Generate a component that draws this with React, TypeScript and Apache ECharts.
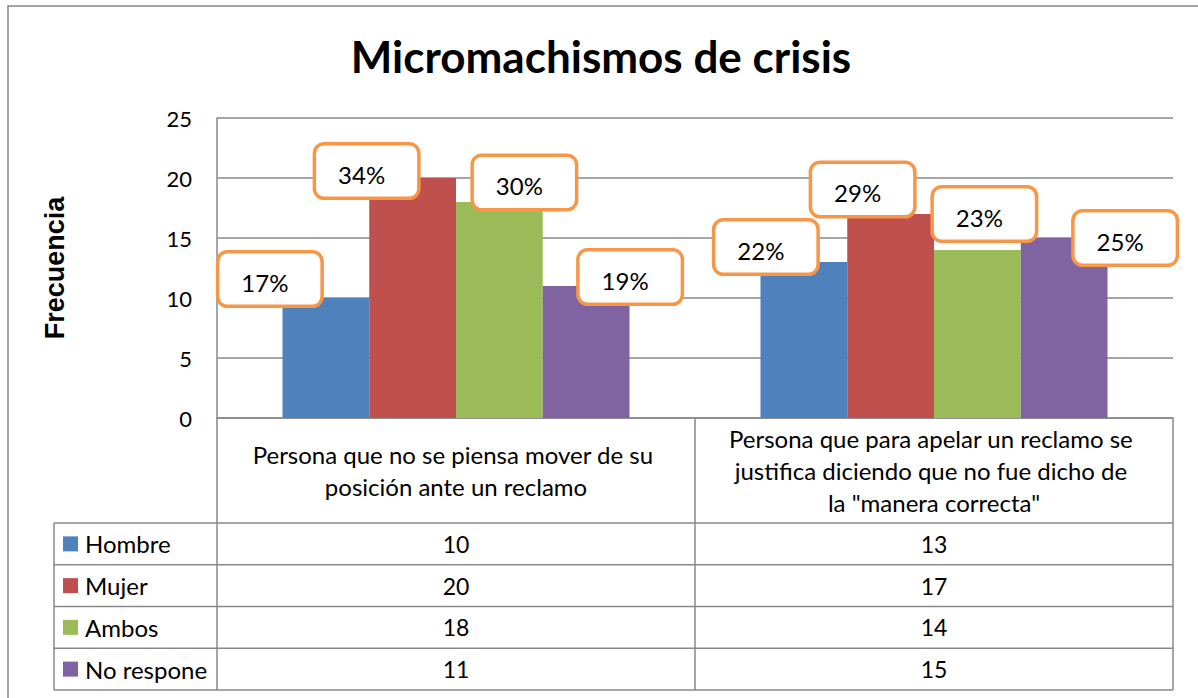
import React, { useEffect, useRef } from "react";
import * as echarts from "echarts";

const categories = [
  "Persona que no se piensa mover de su posición ante un reclamo",
  'Persona que para apelar un reclamo se justifica diciendo que no fue dicho de la "manera correcta"',
];
const seriesNames = ["Hombre", "Mujer", "Ambos", "No respone"];
const hombre = [10, 13];
const mujer = [20, 17];
const ambos = [18, 14];
const noRespone = [11, 15];
const hombrePct = ["17%", "22%"];
const mujerPct = ["34%", "29%"];
const ambosPct = ["30%", "23%"];
const noResponePct = ["19%", "25%"];
const yMin = 0;
const yMax = 25;
const yInterval = 5;

// styling / layout
const COLORS = ["#4F81BD", "#C0504D", "#9BBB59", "#8064A2"];
const LABEL_OFFSETS = [
  [[-56, 6.5], [-38, 10.5]],
  [[-46, 18.5], [-28, 1]],
  [[25, 6], [7, -10.5]],
  [[44, 16.5], [61, 25.5]],
];
const GRID = { left: 217, top: 118, width: 956, height: 300 };
const HEADER_BOTTOM = 523;
const TABLE_BOTTOM = 690;
const LEGEND_LEFT = 54;
const LINE = "#888888";
const FONT = "Lato";

export default function App() {
  const ref = useRef<HTMLDivElement>(null);
  useEffect(() => {
    if (!ref.current) return;
    const chart = echarts.init(ref.current, null, { renderer: "svg" });
    const values = [hombre, mujer, ambos, noRespone];
    const pcts = [hombrePct, mujerPct, ambosPct, noResponePct];
    const rowH = (TABLE_BOTTOM - HEADER_BOTTOM) / seriesNames.length;
    const gridRight = GRID.left + GRID.width;
    const gridBottom = GRID.top + GRID.height;

    chart.setOption({
      animation: false,
      backgroundColor: "#ffffff",
      title: {
        text: "Micromachismos de crisis",
        left: 596,
        top: 29,
        textAlign: "center",
        textStyle: { fontFamily: FONT, fontWeight: "bold", fontSize: 44, color: "#000" },
      },
      legend: {
        data: seriesNames,
        orient: "vertical",
        left: 63,
        top: HEADER_BOTTOM + rowH / 2 - 12,
        padding: 0,
        itemWidth: 15,
        itemHeight: 15,
        itemGap: rowH - 24,
        icon: "rect",
        selectedMode: false,
        textStyle: { fontFamily: FONT, fontSize: 24, lineHeight: 24, color: "#000", padding: [0, 0, 0, 2] },
      },
      grid: { left: GRID.left, top: GRID.top, width: GRID.width, height: GRID.height, containLabel: false },
      xAxis: {
        type: "category",
        data: categories,
        axisTick: { show: false },
        axisLine: { show: true, lineStyle: { color: LINE, width: 1.5 } },
        axisLabel: {
          interval: 0,
          width: 414,
          overflow: "break",
          lineHeight: 32,
          fontSize: 24,
          fontFamily: FONT,
          color: "#000",
          margin: (HEADER_BOTTOM - gridBottom) / 2,
          verticalAlign: "middle",
          align: "center",
        },
      },
      yAxis: {
        type: "value",
        min: yMin,
        max: yMax,
        interval: yInterval,
        name: "Frecuencia",
        nameLocation: "middle",
        nameRotate: 90,
        nameGap: 149,
        nameTextStyle: { fontFamily: "Liberation Sans", fontWeight: "bold", fontSize: 27, color: "#000" },
        axisLine: { show: true, lineStyle: { color: LINE, width: 1.5 } },
        axisTick: { show: false },
        splitLine: { lineStyle: { color: LINE, width: 1.5 } },
        axisLabel: { margin: 25, fontSize: 22, fontFamily: FONT, color: "#000" },
      },
      series: seriesNames.map((name, s) => ({
        name,
        type: "bar",
        barGap: "0%",
        barCategoryGap: "27.4%",
        itemStyle: { color: COLORS[s] },
        label: {
          show: true,
          position: "top",
          distance: 0,
          formatter: (p: any) => pcts[s][p.dataIndex],
          fontFamily: FONT,
          fontSize: 24,
          color: "#000",
          backgroundColor: "#ffffff",
          borderColor: "#F79646",
          borderWidth: 3.5,
          borderRadius: 8,
          width: 91,
          height: 45,
          lineHeight: 45,
          padding: [6, 10, 0, 0],
          align: "center",
        },
        data: values[s].map((v, i) => ({ value: v, label: { offset: LABEL_OFFSETS[s][i] } })),
      })),
    });

    const graphics: any[] = [];
    graphics.push({
      type: "rect",
      shape: { x: 8, y: 6, width: 1400, height: 900 },
      style: { fill: "none", stroke: LINE, lineWidth: 1.5 },
      silent: true,
      z: -10,
    });
    const lineEl = (x1: number, y1: number, x2: number, y2: number) => ({
      type: "line",
      shape: { x1, y1, x2, y2 },
      style: { stroke: LINE, lineWidth: 1.5 },
      silent: true,
    });
    const catW = GRID.width / categories.length;
    for (let i = 0; i <= categories.length; i++) {
      const x = GRID.left + i * catW;
      graphics.push(lineEl(x, gridBottom, x, TABLE_BOTTOM));
    }
    graphics.push(lineEl(LEGEND_LEFT, HEADER_BOTTOM, LEGEND_LEFT, TABLE_BOTTOM));
    for (let r = 0; r <= seriesNames.length; r++) {
      const y = HEADER_BOTTOM + r * rowH;
      graphics.push(lineEl(LEGEND_LEFT, y, gridRight, y));
    }
    values.forEach((arr, s) => {
      arr.forEach((v, i) => {
        const x = chart.convertToPixel({ xAxisIndex: 0 }, i) as number;
        graphics.push({
          type: "text",
          x,
          y: HEADER_BOTTOM + rowH * (s + 0.5),
          silent: true,
          style: {
            text: String(v),
            fontFamily: FONT,
            fontSize: 23,
            fill: "#000",
            align: "center",
            verticalAlign: "middle",
          },
        });
      });
    });
    chart.setOption({ graphic: graphics });
    return () => chart.dispose();
  }, []);
  return (
    <div
      ref={ref}
      style={{ position: "fixed", left: 0, top: 0, width: 1198, height: 698, background: "#fff" }}
    />
  );
}
